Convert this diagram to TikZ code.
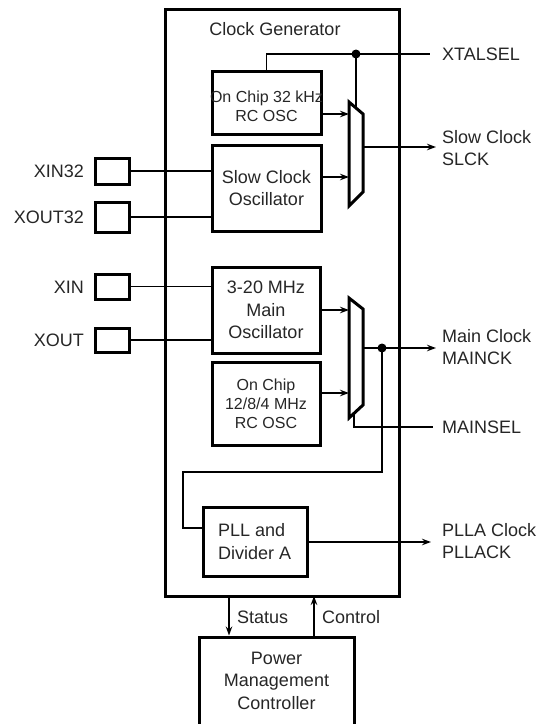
\documentclass[tikz,border=0pt]{standalone}
\usepackage{fontspec}
\setmainfont{Liberation Sans}
\usetikzlibrary{arrows.meta,calc}
\begin{document}
\begin{tikzpicture}[x=1pt,y=-1pt,
  txt/.style={font=\fontsize{18}{22.5}\selectfont, inner sep=0pt, text=black!85},
  smalltxt/.style={font=\fontsize{16}{19}\selectfont, inner sep=0pt, text=black!85},
  blk/.style={draw, line width=3pt, inner sep=0pt, minimum width=#1},
  pad/.style={draw, line width=3pt, inner sep=0pt, minimum width=34pt},
  wire/.style={line width=1.5pt},
  arr/.style={wire, -{Stealth[length=9pt,width=6.5pt]}},
  muxshape/.style={line width=3pt, line join=miter},
  junction/.style={circle, fill, inner sep=0pt, minimum size=9pt}
]
\useasboundingbox (0,0) rectangle (541,724);

% main clock generator box
\node[blk=234pt, minimum height=587pt] (cg) at (282,302.5) {};
\node[txt] (cgt) at (275,29) {Clock Generator};

% blocks
\node[blk=109pt, minimum height=63pt] (osc32) at (266.5,102.5) {};
\node[smalltxt, align=center] (osc32t) at (266.5,106) {On Chip 32 kHz\\RC OSC};
\node[blk=109pt, minimum height=86pt, txt, align=center] (slowosc) at (266.5,188) {Slow Clock\\Oscillator};
\node[blk=108pt, minimum height=86pt, txt, align=center] (mainosc) at (266,310) {3-20 MHz\\Main\\Oscillator};
\node[blk=108pt, minimum height=83pt, smalltxt, align=center] (rcosc) at (266,403.5) {On Chip\\12/8/4 MHz\\RC OSC};
\node[blk=104pt, minimum height=69pt] (pll) at (255,541.5) {};
\node[txt, align=left, anchor=west] (pllt) at (218,541.5) {PLL and\\Divider A};
\node[blk=155pt, minimum height=95pt] (pmc) at (276.5,684.5) {};
\node[txt, align=center] (pmct) at (276.5,680.5) {Power\\Management\\Controller};

% pads
\node[pad, minimum height=26pt] (xin32) at (112,171) {};
\node[pad, minimum height=30pt] (xout32) at (112,217) {};
\node[pad, minimum height=25pt] (xin) at (112,286.5) {};
\node[pad, minimum height=24pt] (xout) at (112,340) {};
\node[txt, anchor=east] (xin32l) at (84,171) {XIN32};
\node[txt, anchor=east] (xout32l) at (84,217) {XOUT32};
\node[txt, anchor=east] (xinl) at (84,287) {XIN};
\node[txt, anchor=east] (xoutl) at (84,340) {XOUT};

\draw[wire] (xin32.east) -- (xin32.east -| slowosc.west);
\draw[wire] (xout32.east) -- (xout32.east -| slowosc.west);
\draw[wire] (xin.east) -- (xin.east -| mainosc.west);
\draw[wire] (xout.east) -- (xout.east -| mainosc.west);

% mux 1
\coordinate (m1a) at (349,102);
\coordinate (m1b) at (363,114);
\coordinate (m1c) at (363,192);
\coordinate (m1d) at (349,206);
\draw[muxshape] (m1a) -- (m1b) -- (m1c) -- (m1d) -- cycle;
\coordinate (m1in1) at (349,114);
\coordinate (m1in2) at (349,177);
\coordinate (m1out) at (363,147);
\coordinate (m1sel) at (356,108);

% mux 2
\coordinate (m2a) at (349,298);
\coordinate (m2b) at (363,309);
\coordinate (m2c) at (363,405);
\coordinate (m2d) at (349,418);
\draw[muxshape] (m2a) -- (m2b) -- (m2c) -- (m2d) -- cycle;
\coordinate (m2in1) at (349,310);
\coordinate (m2in2) at (349,393);
\coordinate (m2out) at (363,348);
\coordinate (m2sel) at (354,414);

% mux inputs
\draw[arr] (m1in1 -| osc32.east) -- (m1in1);
\draw[arr] (m1in2 -| slowosc.east) -- (m1in2);
\draw[arr] (m2in1 -| mainosc.east) -- (m2in1);
\draw[arr] (m2in2 -| rcosc.east) -- (m2in2);

% XTALSEL
\coordinate (xsel) at (430,54);
\node[junction] (j1) at (356,54) {};
\draw[wire] (osc32.north) |- (xsel);
\draw[wire] (j1.center) -- (m1sel);
\node[txt, anchor=west] (xsell) at (442,54) {XTALSEL};

% slow clock out
\coordinate (slck) at (436,147);
\draw[arr] (m1out) -- (slck);
\node[txt, anchor=west, align=left] (slckl) at (442,148) {Slow Clock\\SLCK};

% main clock out
\coordinate (mck) at (436,348);
\node[junction] (j2) at (382,348) {};
\draw[arr] (m2out) -- (mck);
\node[txt, anchor=west, align=left] (mckl) at (442,347) {Main Clock\\MAINCK};

% MAINSEL
\coordinate (msel) at (433,427);
\draw[wire] (m2sel) |- (msel);
\node[txt, anchor=west] (msell) at (442,427) {MAINSEL};

% PLL feed
\coordinate (pf1) at (382,472);
\coordinate (pf2) at (183,472);
\coordinate (pf3) at (183,528);
\draw[wire] (j2.center) -- (pf1) -- (pf2) -- (pf3) -- (pf3 -| pll.west);

% PLL out
\coordinate (pllo) at (431,542);
\draw[arr] (pllo -| pll.east) -- (pllo);
\node[txt, anchor=west, align=left] (plll) at (442,541) {PLLA Clock\\PLLACK};

% status / control
\coordinate (st) at (229,596);
\coordinate (ct) at (314,596);
\draw[arr] (st) -- (st |- pmc.north);
\draw[arr] (ct |- pmc.north) -- (ct);
\node[txt, anchor=west] (stl) at (237,617) {Status};
\node[txt, anchor=west] (ctl) at (322,617) {Control};
\end{tikzpicture}
\end{document}
